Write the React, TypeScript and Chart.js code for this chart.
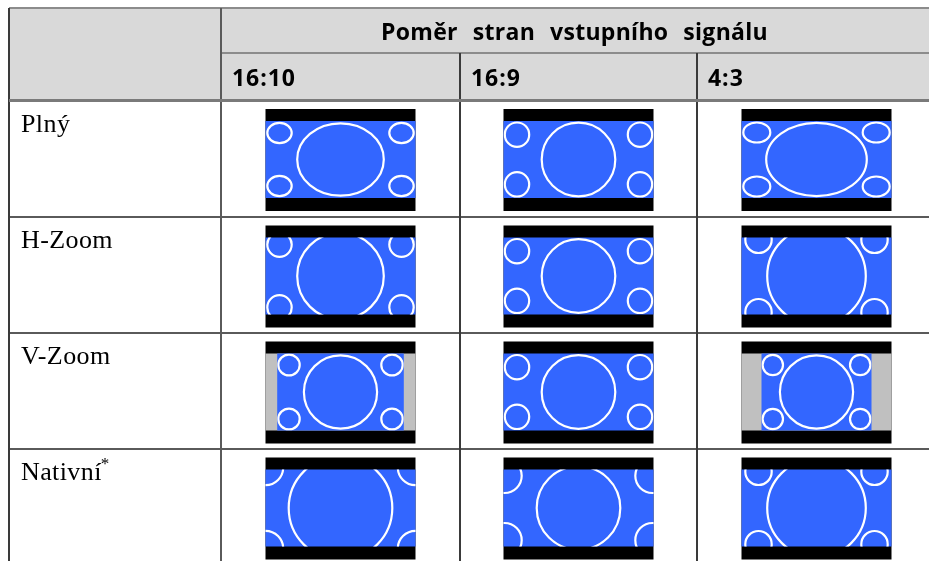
import React, { useEffect, useRef } from "react";
import { Chart, registerables } from "chart.js";

Chart.register(...registerables);

// ---- table content ----
const TITLE = "Poměr stran vstupního signálu";
const ASPECTS = ["16:10", "16:9", "4:3"];
const MODES = ["Plný", "H-Zoom", "V-Zoom", "Nativní"];
const MODE_NOTES = ["", "", "", "*"];

// ---- what each picture shows (rows = modes, cols = aspects), in picture units ----
// half width of the active (blue) picture area (75 = full width, less = side bars)
const BLUE_HALF = [
  [75, 75, 75],
  [75, 75, 75],
  [63.3, 75, 55],
  [75, 75, 75],
];
// big centre circle radii
const BIG_RX = [
  [43.3, 36.8, 50.3],
  [43.3, 36.8, 49.3],
  [36.6, 36.8, 36.6],
  [51.8, 41.8, 49.3],
];
const BIG_RY = [
  [36.2, 36.8, 36.6],
  [43.3, 36.8, 49.3],
  [36.6, 36.8, 36.6],
  [51.8, 41.8, 49.3],
];
// corner circles: offset from picture centre and radii
const SMALL_DX = [
  [61, 61.5, 59.7],
  [61, 61.5, 58],
  [51.5, 61.5, 43.7],
  [75, 74, 58],
];
const SMALL_DY = [
  [26.5, 24.8, 27],
  [31.4, 24.8, 36.2],
  [27, 24.8, 27],
  [40.5, 32.2, 36.2],
];
const SMALL_RX = [
  [12.2, 12.2, 13.5],
  [12.2, 12.2, 13.2],
  [10.7, 12.2, 10.2],
  [17.7, 17.2, 13.2],
];
const SMALL_RY = [
  [10.2, 12.2, 10],
  [12.2, 12.2, 13.2],
  [10.4, 12.2, 10.2],
  [17.7, 17.2, 13.2],
];

// ---- layout (page units) ----
const COL_EDGES = [9, 221, 460, 697, 936];
const TABLE_TOP = 8;
const HEADER_MID = 53;
const HEADER_BOTTOM = 100.5;
const ROW_TOPS = [100.5, 217, 333, 449];

const tablePlugin = {
  id: "tableDrawing",
  afterDraw(chart: any) {
    const { ctx, scales } = chart;
    const X = (v: number) => scales.x.getPixelForValue(v);
    const Y = (v: number) => scales.y.getPixelForValue(v);
    const right = 929;
    const bottom = 561;

    ctx.save();
    // header background
    ctx.fillStyle = "#d9d9d9";
    ctx.fillRect(X(COL_EDGES[0]), Y(TABLE_TOP), X(right) - X(COL_EDGES[0]), Y(HEADER_BOTTOM) - Y(TABLE_TOP));

    const hline = (x0: number, x1: number, y: number, color: string, w: number) => {
      ctx.beginPath();
      ctx.strokeStyle = color;
      ctx.lineWidth = w;
      ctx.moveTo(X(x0), Y(y));
      ctx.lineTo(X(x1), Y(y));
      ctx.stroke();
    };
    const vline = (x: number, y0: number, y1: number, color: string, w: number) => {
      ctx.beginPath();
      ctx.strokeStyle = color;
      ctx.lineWidth = w;
      ctx.moveTo(X(x), Y(y0));
      ctx.lineTo(X(x), Y(y1));
      ctx.stroke();
    };

    // pictures
    for (let r = 0; r < MODES.length; r++) {
      for (let c = 0; c < ASPECTS.length; c++) {
        const cx = (COL_EDGES[c + 1] + COL_EDGES[c + 2]) / 2;
        const x0 = cx - 75;
        const y0 = ROW_TOPS[r] + 8.5;
        const cy = y0 + 50.5;
        ctx.fillStyle = "#000000";
        ctx.fillRect(X(x0), Y(y0), X(x0 + 150) - X(x0), Y(y0 + 102) - Y(y0));
        const half = BLUE_HALF[r][c];
        if (half < 75) {
          ctx.fillStyle = "#c0c0c0";
          ctx.fillRect(X(x0), Y(y0 + 12), X(x0 + 150) - X(x0), Y(y0 + 89) - Y(y0 + 12));
        }
        ctx.fillStyle = "#3366ff";
        const bx0 = X(cx - half), bx1 = X(cx + half);
        const by0 = Y(y0 + 12), by1 = Y(y0 + 89);
        ctx.fillRect(bx0, by0, bx1 - bx0, by1 - by0);

        ctx.save();
        ctx.beginPath();
        ctx.rect(bx0, by0, bx1 - bx0, by1 - by0);
        ctx.clip();
        ctx.strokeStyle = "#ffffff";
        ctx.lineWidth = 2.2;
        const ell = (ex: number, ey: number, rx: number, ry: number) => {
          ctx.beginPath();
          ctx.ellipse(X(ex), Y(ey), X(ex + rx) - X(ex), Math.abs(Y(ey + ry) - Y(ey)), 0, 0, Math.PI * 2);
          ctx.stroke();
        };
        ell(cx, cy, BIG_RX[r][c], BIG_RY[r][c]);
        const dx = SMALL_DX[r][c], dy = SMALL_DY[r][c];
        for (const sx of [-1, 1]) {
          for (const sy of [-1, 1]) {
            ell(cx + sx * dx, cy + sy * dy, SMALL_RX[r][c], SMALL_RY[r][c]);
          }
        }
        ctx.restore();
      }
    }

    // grid lines
    hline(COL_EDGES[0], right, TABLE_TOP, "#8c8c8c", 2);
    hline(COL_EDGES[1], right, HEADER_MID, "#8c8c8c", 2);
    for (let r = 1; r < ROW_TOPS.length; r++) hline(COL_EDGES[0], right, ROW_TOPS[r], "#5a5a5a", 2);
    vline(COL_EDGES[0], TABLE_TOP, bottom, "#3a3a3a", 2);
    vline(COL_EDGES[1], TABLE_TOP, bottom, "#5a5a5a", 2);
    vline(COL_EDGES[2], HEADER_MID, bottom, "#3a3a3a", 2);
    vline(COL_EDGES[3], HEADER_MID, bottom, "#3a3a3a", 2);
    hline(COL_EDGES[0], right, HEADER_BOTTOM, "#7a7a7a", 3);

    // header texts: title words spread over the measured span
    const headFont = 'bold 23px "Open Sans"';
    ctx.fillStyle = "#000000";
    ctx.textBaseline = "alphabetic";
    ctx.textAlign = "left";
    ctx.font = headFont;
    (ctx as any).letterSpacing = "0.3px";
    const words = TITLE.split(" ");
    const widths = words.map((w: string) => ctx.measureText(w).width);
    const total = widths.reduce((a: number, b: number) => a + b, 0);
    const gap = (387 - total) / (words.length - 1);
    let tx = 381;
    words.forEach((w: string, i: number) => {
      ctx.fillText(w, X(tx), Y(39.5));
      tx += widths[i] + gap;
    });

    ctx.font = headFont;
    (ctx as any).letterSpacing = "0px";
    const aw = ctx.measureText(ASPECTS[0]).width;
    const als = (63 - aw) / (ASPECTS[0].length - 1);
    (ctx as any).letterSpacing = als + "px";
    for (let c = 0; c < ASPECTS.length; c++) {
      ctx.fillText(ASPECTS[c], X(COL_EDGES[c + 1] + 11), Y(85.5));
    }

    // row labels
    const labelFont = '26px "Liberation Serif"';
    const labelLs = "0.4px";
    ctx.font = labelFont;
    (ctx as any).letterSpacing = labelLs;
    for (let r = 0; r < MODES.length; r++) {
      const bx = X(21);
      const by = Y(ROW_TOPS[r] + 31);
      ctx.fillText(MODES[r], bx, by);
      if (MODE_NOTES[r]) {
        const w = ctx.measureText(MODES[r]).width;
        ctx.font = '17px "Liberation Serif"';
        (ctx as any).letterSpacing = "0px";
        ctx.fillText(MODE_NOTES[r], bx + w - 1, Y(ROW_TOPS[r] + 20));
        ctx.font = labelFont;
        (ctx as any).letterSpacing = labelLs;
      }
    }
    (ctx as any).letterSpacing = "0px";
    ctx.restore();
  },
};

export default function App() {
  const canvasRef = useRef<HTMLCanvasElement | null>(null);

  useEffect(() => {
    const canvas = canvasRef.current;
    if (!canvas) return;
    const chart = new Chart(canvas, {
      type: "scatter",
      data: { datasets: [{ data: [] }] },
      options: {
        animation: false,
        responsive: false,
        devicePixelRatio: 1,
        layout: { padding: 0 },
        plugins: { legend: { display: false }, tooltip: { enabled: false }, title: { display: false } },
        scales: {
          x: { type: "linear", min: 0, max: 929, display: false },
          y: { type: "linear", min: 0, max: 561, reverse: true, display: false },
        },
      },
      plugins: [tablePlugin],
    });
    return () => chart.destroy();
  }, []);

  return (
    <div style={{ position: "absolute", left: 0, top: 0, width: 929, height: 561, background: "#ffffff" }}>
      <canvas ref={canvasRef} width={929} height={561} />
    </div>
  );
}
